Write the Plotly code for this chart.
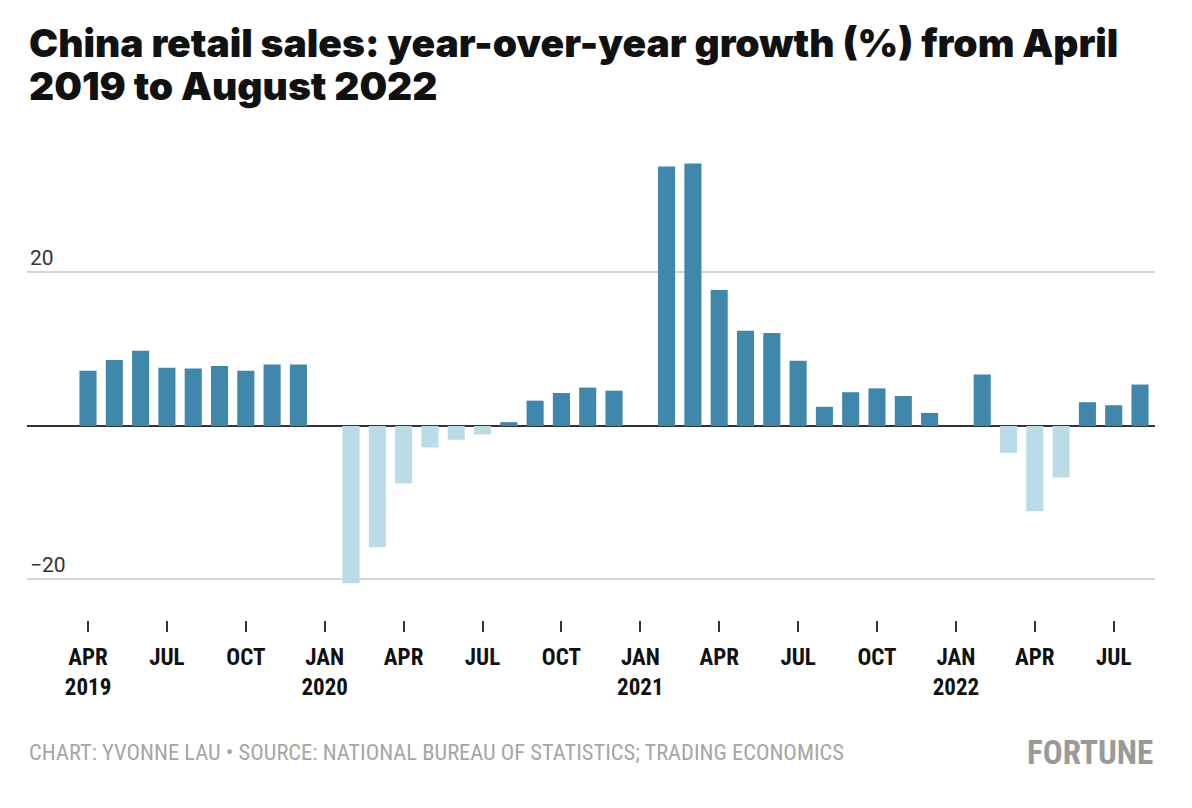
import plotly.graph_objects as go

months = [
    "2019-04", "2019-05", "2019-06", "2019-07", "2019-08", "2019-09", "2019-10", "2019-11", "2019-12",
    "2020-01", "2020-02", "2020-03", "2020-04", "2020-05", "2020-06", "2020-07", "2020-08", "2020-09",
    "2020-10", "2020-11", "2020-12",
    "2021-01", "2021-02", "2021-03", "2021-04", "2021-05", "2021-06", "2021-07", "2021-08", "2021-09",
    "2021-10", "2021-11", "2021-12",
    "2022-01", "2022-02", "2022-03", "2022-04", "2022-05", "2022-06", "2022-07", "2022-08",
]
growth = [
    7.2, 8.6, 9.8, 7.6, 7.5, 7.8, 7.2, 8.0, 8.0,
    None, -20.5, -15.8, -7.5, -2.8, -1.8, -1.1, 0.5, 3.3,
    4.3, 5.0, 4.6,
    None, 33.8, 34.2, 17.7, 12.4, 12.1, 8.5, 2.5, 4.4,
    4.9, 3.9, 1.7,
    None, 6.7, -3.5, -11.1, -6.7, 3.1, 2.7, 5.4,
]
tick_months = ["2019-04", "2019-07", "2019-10", "2020-01", "2020-04", "2020-07", "2020-10",
               "2021-01", "2021-04", "2021-07", "2021-10", "2022-01", "2022-04", "2022-07"]
tick_labels = ["APR<br>2019", "JUL", "OCT", "JAN<br>2020", "APR", "JUL", "OCT",
               "JAN<br>2021", "APR", "JUL", "OCT", "JAN<br>2022", "APR", "JUL"]
y_ticks = [-20, 20]
title_lines = ["China retail sales: year-over-year growth (%) from April",
               "2019 to August 2022"]

POS = "#3f87ab"
NEG = "#b9dce6"
colors = [POS if (v is not None and v >= 0) else NEG for v in growth]

fig = go.Figure(go.Bar(
    x=months, y=growth, marker=dict(color=colors, line=dict(width=0)),
    width=0.65, hoverinfo="x+y",
))

cond = "Liberation Sans Narrow, Roboto Condensed, DejaVu Sans Condensed, sans-serif"
title_font = dict(family="Inter, Roboto, sans-serif", size=39, color="#111", weight=900)

annotations = [
    dict(text=title_lines[0], xref="paper", yref="paper", x=0, y=1.2021,
         xanchor="left", yanchor="middle", showarrow=False, font=title_font),
    dict(text=title_lines[1], xref="paper", yref="paper", x=0, y=1.1125,
         xanchor="left", yanchor="middle", showarrow=False, font=title_font),
    dict(text="CHART: YVONNE LAU • SOURCE: NATIONAL BUREAU OF STATISTICS; TRADING ECONOMICS",
         xref="paper", yref="paper", x=0, y=-0.275, xanchor="left", yanchor="middle",
         showarrow=False, font=dict(family=cond, size=22.5, color="#a6a6a6")),
    dict(text="<b>FORTUNE</b>",
         xref="paper", yref="paper", x=1, y=-0.275, xanchor="right", yanchor="middle",
         showarrow=False, font=dict(family=cond, size=33, color="#9a9a9a")),
]

fig.update_layout(
    width=1192, height=808,
    margin=dict(l=19, r=45, t=132, b=196),
    paper_bgcolor="white", plot_bgcolor="white",
    showlegend=False,
    xaxis=dict(
        type="category", categoryorder="array", categoryarray=months,
        range=[-2.32, 40.57],
        tickmode="array", tickvals=tick_months,
        ticktext=["<b>" + t.replace("<br>", "</b><br><b>") + "</b>" for t in tick_labels],
        ticks="outside", ticklen=11, tickwidth=1.5, tickcolor="#333",
        showline=False, showgrid=False, zeroline=False,
        tickfont=dict(family=cond, size=23, color="#111"),
        ticklabelstandoff=5,
    ),
    yaxis=dict(
        range=[-25.28, 37.26],
        tickmode="array", tickvals=y_ticks,
        ticklabelposition="inside top",
        tickfont=dict(family="Roboto, sans-serif", size=21, color="#333"),
        showgrid=True, gridcolor="#d4d4d4", gridwidth=1.5,
        zeroline=True, zerolinecolor="#333", zerolinewidth=2,
        showline=False, ticks="",
    ),
    annotations=annotations,
)

fig.write_html("out.html")
